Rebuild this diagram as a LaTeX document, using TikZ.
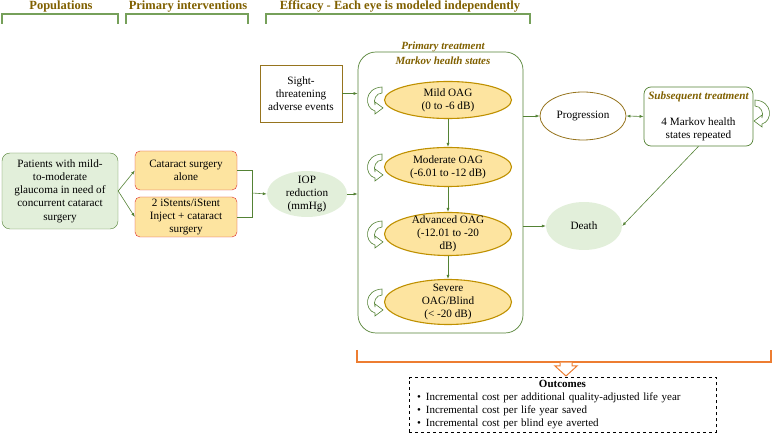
\documentclass[tikz,border=0pt]{standalone}
\usepackage{fontspec}
\setmainfont{Liberation Serif}
\usetikzlibrary{shapes.geometric, arrows.meta}

\definecolor{hdrgold}{RGB}{128,96,0}
\definecolor{brgreen}{RGB}{118,160,90}
\definecolor{boxgreen}{RGB}{84,130,53}
\definecolor{fillgreen}{RGB}{226,239,218}
\definecolor{fillyellow}{RGB}{253,228,160}
\definecolor{ovalgold}{RGB}{191,144,0}
\definecolor{sightbrown}{RGB}{150,116,30}
\definecolor{redline}{RGB}{220,40,40}
\definecolor{outorange}{RGB}{237,125,49}

\tikzset{
    txt/.style={font=\fontsize{11.2}{13.3}\selectfont, align=center, inner sep=0pt},
    hdr/.style={font=\fontsize{12.5}{14}\selectfont\bfseries, text=hdrgold, inner sep=0pt},
    subhdr/.style={font=\fontsize{11}{13}\selectfont\bfseries\itshape, text=hdrgold, inner sep=0pt},
    bracket/.style={draw=brgreen, line width=1.3pt},
    greenbox/.style={txt, draw=boxgreen, fill=fillgreen, rounded corners=8pt},
    interbox/.style={txt, draw=redline, fill=fillyellow, rounded corners=5pt},
    healthstate/.style={txt, ellipse, draw=ovalgold, line width=1.1pt, fill=fillyellow, inner xsep=0pt, inner ysep=-6pt},
    greenoval/.style={txt, ellipse, fill=fillgreen, inner xsep=0pt, inner ysep=-6pt},
    arr/.style={draw=boxgreen, line width=0.6pt, -{Latex[length=4pt,width=3pt]}},
    line/.style={draw=boxgreen, line width=0.6pt},
    selfloop/.pic={
        \draw[boxgreen, line width=0.6pt, fill=white]
            (8,-13) -- (8,-7) .. controls (2,-7) and (-1,0) .. (1,5)
            -- (1,2) -- (9,8) -- (1,14) -- (1,11)
            .. controls (-10,8) and (-10,-12) .. (8,-13) -- cycle;
    }
}

\begin{document}
\begin{tikzpicture}[x=1pt, y=-1pt]
    \useasboundingbox (0,0) rectangle (772,435);

    % column headings
    \node[hdr] (hpop) at (61,6.5) {Populations};
    \node[hdr] (hint) at (188,6.5) {Primary interventions};
    \node[hdr] (heff) at (400,6.5) {Efficacy - Each eye is modeled independently};
    \draw[bracket] (2,24) -- (2,14) -- (118,14) -- (118,24);
    \draw[bracket] (126,24) -- (126,14) -- (248,14) -- (248,24);
    \draw[bracket] (266,24) -- (266,14) -- (530,14) -- (530,24);

    \node[greenbox, minimum width=116pt, minimum height=76pt] (pat) at (60,191)
        {Patients with mild-\\to-moderate\\glaucoma in need of\\concurrent cataract\\surgery};
    \node[interbox, minimum width=102pt, minimum height=39pt] (cat) at (186,170.5)
        {Cataract surgery\\alone};
    \node[interbox, minimum width=102pt, minimum height=40pt] (ist) at (186,217)
        {2 iStents/iStent\\Inject + cataract\\surgery};
    \node[greenoval, minimum width=80pt, minimum height=46pt] (iop) at (307,194)
        {IOP\\reduction\\(mmHg)};
    \coordinate (jn) at (252,193);

    \draw[arr] (pat.east) -- (cat.west);
    \draw[arr] (pat.east) -- (ist.west);
    \draw[line] (cat.east) -| (jn);
    \draw[line] (ist.east) -| (jn);
    \draw[arr] (jn) -- (iop.west);

    % Markov model
    \node[draw=boxgreen, line width=0.7pt, rounded corners=18pt, minimum width=165pt, minimum height=281pt] (mkbox) at (440.5,192.5) {};
    \node[subhdr] (ptitle) at (443,47) {Primary treatment};
    \node[subhdr] (mtitle) at (443,61) {Markov health states};

    \node[txt, draw=sightbrown, line width=0.8pt, minimum width=82pt, minimum height=57pt] (sight) at (301,93.5)
        {Sight-\\threatening\\adverse events};

    \node[healthstate, minimum width=127pt, minimum height=37pt] (mild) at (448,100) {Mild OAG\\(0 to -6 dB)};
    \node[healthstate, minimum width=127pt, minimum height=39pt] (moder) at (448,167) {Moderate OAG\\(-6.01 to -12 dB)};
    \node[healthstate, minimum width=127pt, minimum height=43pt] (adv) at (448,234) {Advanced OAG\\(-12.01 to -20\\dB)};
    \node[healthstate, minimum width=127pt, minimum height=45pt] (sev) at (448,302) {Severe\\OAG/Blind\\(< -20 dB)};

    \draw[arr] (mild) -- (moder);
    \draw[arr] (moder) -- (adv);
    \draw[arr] (adv) -- (sev);

    \pic at (374,100) {selfloop};
    \pic at (374,167) {selfloop};
    \pic at (374,234) {selfloop};
    \pic at (374,302) {selfloop};

    \draw[arr] (sight.east) -- (sight.east -| mkbox.west);
    \draw[arr] (iop.east) -- (iop.east -| mkbox.west);

    \node[txt, ellipse, draw=sightbrown, line width=0.8pt, minimum width=86pt, minimum height=48pt] (prog) at (583,116) {Progression};
    \node[txt, draw=boxgreen, line width=0.7pt, rounded corners=7pt, minimum width=109pt, minimum height=59pt] (subs) at (698.5,116.5)
        {{\bfseries\itshape\color{hdrgold}Subsequent treatment}\\[12pt]4 Markov health\\states repeated};
    \pic[xscale=-1] at (763,113) {selfloop};
    \node[greenoval, minimum width=76pt, minimum height=48pt] (death) at (584,226) {Death};

    \draw[arr] (mkbox.east |- prog.west) -- (prog.west);
    \draw[draw=boxgreen, line width=0.6pt, {Latex[length=4pt,width=3pt]}-{Latex[length=4pt,width=3pt]}] (prog.east) -- (subs.west);
    \draw[arr] (mkbox.east |- death.west) -- (death.west);
    \draw[arr] (subs.south) -- (death.east);

    % outcomes
    \draw[outorange, line width=1.2pt] (357,350) -- (357,362) -- (771,362) -- (771,350);
    \draw[outorange, line width=1pt, fill=white] (560,362.6) -- (560,366) -- (555,366) -- (566,376) -- (577,366) -- (572,366) -- (572,362.6);
    \node[draw, dashed, line width=0.6pt, font=\fontsize{11}{13}\selectfont, align=left, text width=291pt, inner xsep=8pt, inner ysep=3pt] (outc) at (562.5,405)
        {\makebox[\linewidth]{\bfseries Outcomes}\\
         \textbullet\hspace{5pt}Incremental cost per additional quality-adjusted life year\\
         \textbullet\hspace{5pt}Incremental cost per life year saved\\
         \textbullet\hspace{5pt}Incremental cost per blind eye averted};
\end{tikzpicture}
\end{document}
